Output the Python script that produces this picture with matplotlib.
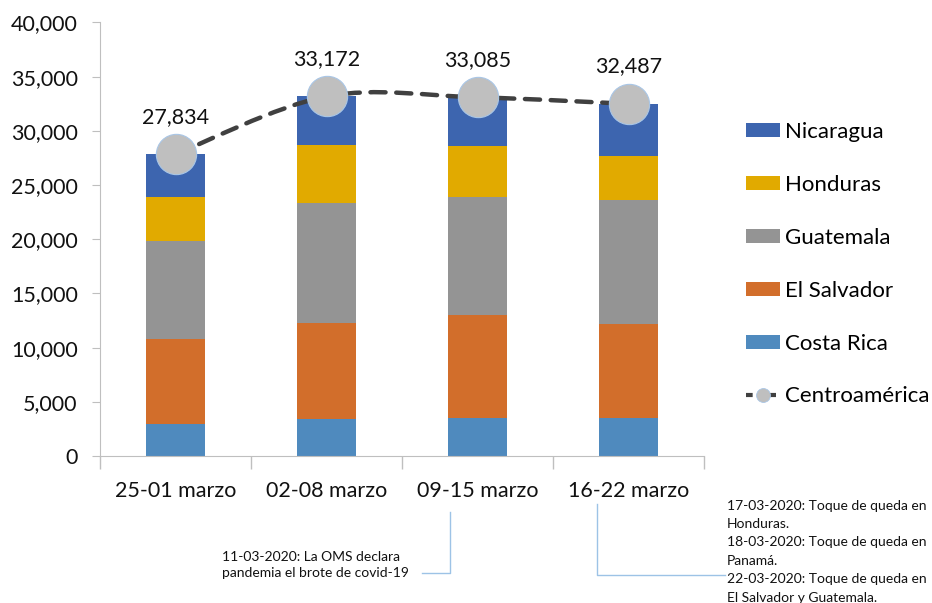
import numpy as np
import matplotlib
matplotlib.use("Agg")
import matplotlib.pyplot as plt
from matplotlib.path import Path
from matplotlib.patches import PathPatch, Patch
from matplotlib.lines import Line2D
from matplotlib.ticker import FuncFormatter, MultipleLocator

plt.rcParams["font.family"] = ["Lato", "DejaVu Sans"]

# ── data ──────────────────────────────────────────────────────────────────────
semanas = ["25-01 marzo", "02-08 marzo", "09-15 marzo", "16-22 marzo"]
costa_rica = [2950, 3410, 3530, 3530]
el_salvador = [7870, 8860, 9480, 8670]
guatemala = [9010, 11070, 10860, 11440]
honduras = [4090, 5320, 4700, 4060]
nicaragua = [3914, 4512, 4515, 4787]
centroamerica = [27834, 33172, 33085, 32487]

notas = [
    "11-03-2020: La OMS declara\npandemia el brote de covid-19",
    "17-03-2020: Toque de queda en\nHonduras.\n18-03-2020: Toque de queda en\n"
    "Panamá.\n22-03-2020: Toque de queda en\nEl Salvador y Guatemala.",
]

series = [
    ("Costa Rica", costa_rica, "#4F8ABE"),
    ("El Salvador", el_salvador, "#D26E2B"),
    ("Guatemala", guatemala, "#949494"),
    ("Honduras", honduras, "#E1AA00"),
    ("Nicaragua", nicaragua, "#3D65AF"),
]

W, H = 932, 603
fig = plt.figure(figsize=(W / 100, H / 100), dpi=100)
ax = fig.add_axes([100 / W, 1 - 456 / H, 604 / W, 433.6 / H])

x = np.arange(len(semanas))
bottom = np.zeros(len(semanas))
for name, vals, color in series:
    ax.bar(x, vals, width=0.39, bottom=bottom, color=color, label=name, zorder=2)
    bottom += np.array(vals)

# smoothed total line (Catmull-Rom through the totals)
pts = np.column_stack([x, centroamerica]).astype(float)
ext = np.vstack([pts[0], pts, pts[-1]])
verts = [tuple(pts[0])]
codes = [Path.MOVETO]
for i in range(len(pts) - 1):
    p0, p1, p2, p3 = ext[i], ext[i + 1], ext[i + 2], ext[i + 3]
    c1 = p1 + (p2 - p0) / 6
    c2 = p2 - (p3 - p1) / 6
    verts += [tuple(c1), tuple(c2), tuple(p2)]
    codes += [Path.CURVE4] * 3
ax.add_patch(PathPatch(Path(verts, codes), fill=False, edgecolor="#404040",
                       lw=3.2, linestyle=(0, (3.4, 2.4)), capstyle="round", zorder=3))
ax.plot(x, centroamerica, ls="none", marker="o", ms=29, mfc="#BFBFBF",
        mec="#A9C6E6", mew=0.8, zorder=4)

for xi, v in zip(x, centroamerica):
    ax.annotate(f"{v:,}", (xi, v), xytext=(0, 27), textcoords="offset points",
                ha="center", va="center", fontsize=15.5, color="#111111", zorder=5)

ax.set_xlim(-0.5, len(semanas) - 0.5)
ax.set_ylim(0, 40000)
ax.yaxis.set_major_locator(MultipleLocator(5000))
ax.yaxis.set_major_formatter(FuncFormatter(lambda v, _: f"{v:,.0f}"))
ax.set_xticks(x)
ax.set_xticklabels(semanas)
ax.set_xticks(np.arange(-0.5, len(semanas)), minor=True)
ax.tick_params(axis="x", which="major", length=0, pad=18, labelsize=15.5, labelcolor="#111111")
ax.tick_params(axis="x", which="minor", length=9, color="#BFBFBF", width=1)
ax.tick_params(axis="y", length=6, color="#BFBFBF", pad=10, labelsize=15.5, labelcolor="#111111")
for s in ["top", "right"]:
    ax.spines[s].set_visible(False)
for s in ["left", "bottom"]:
    ax.spines[s].set_color("#BFBFBF")

# legend
handles = [Patch(facecolor=c, edgecolor="none") for _, _, c in series[::-1]]
labels = [n for n, _, _ in series[::-1]]
handles.append(Line2D([], [], color="#404040", lw=3, linestyle=(0, (1.6, 1.2)),
                      marker="o", ms=10, mfc="#BFBFBF", mec="#A9C6E6", mew=0.6))
labels.append("Centroamérica")
fig.legend(handles, labels, loc="upper left", bbox_to_anchor=(746 / W, 1 - 122 / H),
           frameon=False, fontsize=16, handlelength=1.53, handleheight=0.59,
           handletextpad=0.22, labelspacing=1.48, borderpad=0, borderaxespad=0)

# event call-outs under the axis
lc = "#9DC3E6"
fig.add_artist(Line2D([450 / W, 450 / W, 422 / W], [1 - 512 / H, 1 - 573 / H, 1 - 573 / H],
                      color=lc, lw=1))
fig.add_artist(Line2D([597 / W, 597 / W, 725 / W], [1 - 504 / H, 1 - 575 / H, 1 - 575 / H],
                      color=lc, lw=1))
fig.text(222 / W, 1 - 565 / H, notas[0], ha="left", va="center", fontsize=10,
         linespacing=1.45, color="#111111")
fig.text(727 / W, 1 - 551.5 / H, notas[1], ha="left", va="center", fontsize=10,
         linespacing=1.64, color="#111111")

fig.savefig("out.png", dpi=100)
